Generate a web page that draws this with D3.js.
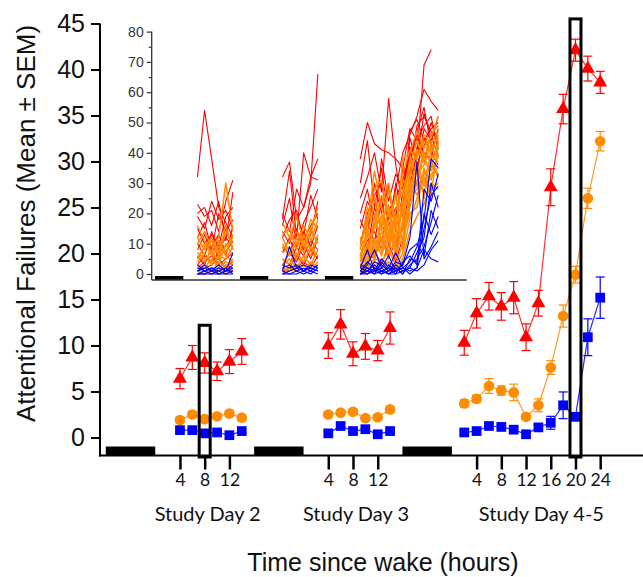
<!DOCTYPE html>
<html>
<head>
<meta charset="utf-8">
<script src="https://cdn.jsdelivr.net/npm/d3@7"></script>
<style>
  body { margin: 0; background: #fff; }
  svg { display: block; }
</style>
</head>
<body>
<svg id="chart" width="643" height="577"></svg>
<script>
// ---- Protocol timeline (hours from the first sleep onset) ----
const sleepBlocks = [[0, 8], [24, 32], [48, 56]];
const dayNames = ["Study Day 2", "Study Day 3", "Study Day 4-5"];
const dayWake = [8, 32, 56];
const dayTickHours = [[4, 8, 12], [4, 8, 12], [4, 8, 12, 16, 20, 24]];
const yTicks = [0, 5, 10, 15, 20, 25, 30, 35, 40, 45];

// ---- Test times since wake, per study day ----
const hoursDay2 = [4, 6, 8, 10, 12, 14];
const hoursDay3 = [4, 6, 8, 10, 12, 14];
const hoursDay45 = [2, 4, 6, 8, 10, 12, 14, 16, 18, 20, 22, 24];
const dayHours = [hoursDay2, hoursDay3, hoursDay45];

// ---- Group means and SEM: red (triangles) ----
const redMean = [
  [6.4, 8.7, 8.1, 7.2, 8.25, 9.35],
  [10.0, 12.3, 9.1, 9.9, 9.45, 11.9],
  [10.3, 13.5, 15.35, 14.25, 15.2, 10.9, 14.6, 27.2, 35.7, 42.1, 40.1, 38.6]
];
const redSem = [
  [1.1, 1.3, 1.1, 1.0, 1.3, 1.4],
  [1.4, 1.6, 1.3, 1.4, 1.1, 1.75],
  [1.35, 1.6, 1.5, 1.5, 1.75, 1.45, 1.4, 2.0, 1.6, 1.2, 1.35, 1.2]
];
// ---- orange (circles) ----
const orangeMean = [
  [1.9, 2.5, 2.0, 2.3, 2.6, 2.15],
  [2.5, 2.7, 2.8, 2.1, 2.2, 3.05],
  [3.7, 4.2, 5.6, 5.1, 4.9, 2.25, 3.5, 7.6, 13.2, 17.7, 26.0, 32.2]
];
const orangeSem = [
  [0.3, 0.35, 0.3, 0.3, 0.35, 0.3],
  [0.3, 0.3, 0.3, 0.3, 0.3, 0.35],
  [0.4, 0.4, 0.8, 0.5, 0.9, 0.3, 0.7, 0.75, 1.2, 0.9, 1.1, 1.05]
];
// ---- blue (squares) ----
const blueMean = [
  [0.8, 0.8, 0.45, 0.55, 0.25, 0.7],
  [0.45, 1.25, 0.7, 0.9, 0.35, 0.7],
  [0.55, 0.7, 1.25, 1.15, 0.85, 0.35, 1.1, 1.6, 3.5, 2.25, 10.9, 15.2]
];
const blueSem = [
  [0.2, 0.2, 0.2, 0.2, 0.2, 0.2],
  [0.2, 0.25, 0.2, 0.2, 0.2, 0.2],
  [0.2, 0.2, 0.25, 0.2, 0.2, 0.2, 0.3, 0.7, 1.45, 0.4, 2.0, 2.25]
];

// ---- Highlighted test bouts: study day index, hour, box top (failures) ----
const highlightDay = [0, 2];
const highlightHour = [8, 20];
const highlightTop = [12.2, 45.5];

// ---- Individual participant traces (inset) ----
const indivRed = [
  [ // Study Day 2
    [32, 54, 38, 22, 17, 12], [23, 19, 21, 14, 24, 31], [20, 22, 16, 24, 11, 27],
    [19, 15, 24, 18, 21, 15], [15, 10, 13, 9, 19, 22], [12, 17, 8, 20, 14, 18],
    [10, 6, 14, 8, 12, 9], [8, 13, 7, 11, 6, 16], [5, 9, 11, 5, 15, 8],
    [3, 6, 4, 7, 9, 13], [2, 4, 6, 3, 5, 7], [1, 2, 3, 5, 2, 4],
    [0, 1, 2, 1, 3, 2], [6, 3, 9, 13, 7, 11]
  ],
  [ // Study Day 3
    [32, 37, 18, 22, 30, 66], [18, 34, 12, 40, 32, 38], [20, 14, 28, 22, 32, 31],
    [16, 25, 9, 17, 22, 28], [12, 18, 21, 11, 16, 20], [9, 6, 15, 8, 13, 24],
    [7, 12, 5, 14, 9, 16], [5, 3, 9, 6, 11, 8], [3, 7, 4, 10, 5, 12],
    [1, 2, 6, 3, 8, 5], [0, 1, 2, 4, 2, 6], [14, 10, 19, 13, 26, 18]
  ],
  [ // Study Day 4-5
    [38, 50, 43, 41, 40, 38, 35, 30, 39, 69, 74, null],
    [30, 44, 22, 35, 18, 28, 40, 46, 52, 61, 57, 54],
    [25, 32, 40, 27, 58, 36, 22, 47, 51, 44, 48, 50],
    [20, 28, 15, 38, 24, 33, 28, 42, 38, 53, 45, 47],
    [18, 12, 30, 20, 29, 14, 35, 48, 44, 49, 52, 41],
    [15, 24, 19, 11, 21, 25, 31, 39, 47, 55, 42, 45],
    [12, 8, 22, 16, 13, 30, 19, 45, 36, 42, 50, 43],
    [9, 18, 10, 25, 9, 20, 33, 37, 46, 40, 38, 48],
    [6, 11, 14, 8, 17, 7, 26, 41, 33, 48, 44, 52],
    [4, 7, 5, 12, 6, 10, 15, 29, 42, 37, 46, 39],
    [2, 4, 8, 3, 10, 4, 12, 24, 35, 45, 40, 36],
    [10, 20, 26, 30, 16, 22, 9, 34, 49, 52, 47, 44]
  ]
];
const indivOrange = [
  [
    [10, 14, 9, 12, 30, 14], [16, 11, 7, 5, 9, 12], [12, 8, 11, 6, 14, 10],
    [8, 10, 6, 9, 7, 13], [6, 4, 8, 3, 10, 6], [4, 7, 3, 6, 5, 9],
    [3, 2, 5, 2, 4, 3], [2, 3, 1, 4, 2, 5], [1, 0, 2, 1, 3, 1],
    [0, 1, 0, 2, 0, 2], [5, 9, 12, 7, 16, 8], [7, 5, 4, 11, 6, 4]
  ],
  [
    [17, 12, 19, 10, 14, 22], [13, 15, 8, 16, 11, 18], [10, 6, 12, 7, 15, 10],
    [7, 9, 5, 11, 6, 13], [5, 3, 7, 4, 9, 6], [3, 5, 2, 6, 3, 8],
    [2, 1, 3, 1, 4, 2], [0, 2, 1, 3, 1, 4], [8, 11, 14, 9, 18, 15],
    [12, 7, 10, 13, 8, 11]
  ],
  [
    [10, 16, 34, 22, 14, 12, 38, 40, 47, 42, 45, 52],
    [8, 22, 18, 26, 20, 9, 25, 35, 39, 44, 40, 46],
    [6, 12, 25, 14, 28, 16, 20, 38, 33, 36, 43, 41],
    [4, 9, 15, 19, 11, 21, 30, 32, 41, 38, 35, 44],
    [3, 6, 10, 8, 17, 6, 18, 29, 36, 30, 39, 37],
    [2, 4, 7, 12, 5, 13, 14, 26, 28, 34, 31, 40],
    [1, 2, 5, 4, 8, 3, 10, 22, 31, 27, 33, 35],
    [0, 1, 3, 2, 4, 2, 7, 18, 25, 32, 28, 30],
    [5, 14, 8, 17, 23, 11, 16, 34, 29, 40, 37, 33],
    [7, 3, 20, 10, 9, 18, 24, 27, 37, 25, 42, 38],
    [2, 8, 12, 6, 14, 8, 12, 20, 22, 35, 26, 43],
    [0, 3, 2, 5, 3, 1, 5, 14, 19, 23, 30, 28],
    [9, 18, 28, 31, 19, 25, 27, 36, 44, 38, 46, 49],
    [3, 5, 9, 7, 12, 10, 22, 31, 26, 33, 36, 32],
    [12, 7, 16, 24, 30, 15, 33, 41, 38, 46, 43, 47],
    [4, 10, 6, 14, 7, 19, 11, 25, 34, 29, 38, 42],
    [1, 3, 11, 9, 22, 5, 17, 33, 41, 37, 34, 39],
    [6, 15, 4, 20, 12, 27, 8, 28, 30, 42, 41, 45]
  ]
];
const indivBlue = [
  [
    [1, 3, 1, 2, 1, 7], [0, 1, 2, 1, 0, 1], [2, 1, 0, 1, 2, 0],
    [0, 0, 1, 0, 1, 2], [1, 2, 1, 3, 1, 1], [0, 0, 0, 0, 0, 0],
    [3, 1, 2, 0, 1, 3]
  ],
  [
    [1, 9, 2, 1, 3, 2], [2, 3, 1, 2, 1, 3], [0, 1, 2, 3, 2, 1],
    [1, 0, 0, 1, 0, 2], [3, 2, 3, 1, 2, 1], [0, 0, 1, 0, 1, 0]
  ],
  [
    [1, 3, 8, 2, 6, 1, 3, 12, 37, 5, 9, 14],
    [2, 8, 1, 5, 2, 7, 2, 4, 9, 18, 38, 35],
    [0, 1, 3, 1, 2, 0, 4, 6, 3, 28, 24, 33],
    [3, 2, 0, 4, 1, 3, 1, 2, 7, 12, 30, 22],
    [1, 0, 2, 1, 0, 2, 0, 3, 5, 9, 17, 26],
    [0, 2, 1, 0, 3, 1, 2, 1, 2, 20, 13, 19],
    [2, 1, 4, 3, 1, 4, 3, 8, 10, 6, 21, 15],
    [0, 0, 1, 2, 0, 0, 1, 2, 1, 3, 8, 11],
    [1, 4, 2, 0, 1, 2, 0, 5, 4, 15, 26, 29],
    [0, 1, 0, 1, 0, 1, 2, 0, 2, 8, 5, 4]
  ]
];
const insetTicks = [0, 10, 20, 30, 40, 50, 60, 70, 80];
const insetMinorTicks = [5, 15, 25, 35, 45, 55, 65, 75];

// ---- Colours ----
const RED = "#ff0000", ORANGE = "#ff8c00", BLUE = "#0000ff";

const svg = d3.select("#chart");

// ---- Main scales ----
const x = d3.scaleLinear().domain([0, 80]).range([105.8, 600.2]);
const y = d3.scaleLinear().domain([0, 45]).range([437.5, 23.5]);
const axisY = 455.5;   // baseline of the time axis
const axisX = 100;     // position of the failures axis

// ---- Inset scales ----
const xi = d3.scaleLinear().domain([0, 80]).range([155, 438.2]);
const yi = d3.scaleLinear().domain([0, 80]).range([274, 31.6]);
const insetAxisY = 280, insetAxisX = 151.7, insetRight = 466.7;

// ================= Inset =================
const inset = svg.append("g").attr("class", "inset");

const lineI = (hours, wake) => d3.line()
  .defined(d => d != null)
  .x((d, i) => xi(wake + hours[i]))
  .y(d => yi(d));

function drawTraces(sets, color, width) {
  sets.forEach((daySet, di) => {
    const gen = lineI(dayHours[di], dayWake[di]);
    inset.append("g")
      .selectAll("path")
      .data(daySet)
      .join("path")
      .attr("d", gen)
      .attr("fill", "none")
      .attr("stroke", color)
      .attr("stroke-width", width)
      .attr("stroke-linejoin", "round");
  });
}
drawTraces(indivRed, RED, 1.1);
drawTraces(indivOrange, ORANGE, 1.5);
drawTraces(indivBlue, BLUE, 1.1);

// inset sleep bars
inset.append("g").selectAll("rect")
  .data(sleepBlocks)
  .join("rect")
  .attr("x", d => xi(d[0]))
  .attr("width", d => xi(d[1]) - xi(d[0]))
  .attr("y", insetAxisY - 4)
  .attr("height", 4)
  .attr("fill", "#000");

// inset axes
const insetYAxis = inset.append("g")
  .attr("transform", `translate(${insetAxisX},0)`)
  .call(d3.axisLeft(yi).tickValues(insetTicks).tickSize(5).tickPadding(3).tickSizeOuter(0));
insetYAxis.select(".domain").remove();
insetYAxis.selectAll("text")
  .attr("font-family", "Liberation Sans, Arial, sans-serif")
  .attr("font-size", 14)
  .attr("fill", "#333");
insetYAxis.selectAll("line").attr("stroke", "#333").attr("stroke-width", 1.2);
inset.append("g")
  .attr("transform", `translate(${insetAxisX},0)`)
  .call(d3.axisLeft(yi).tickValues(insetMinorTicks).tickSize(3).tickFormat(""))
  .call(g => g.select(".domain").remove())
  .selectAll("line").attr("stroke", "#333").attr("stroke-width", 1.2);
inset.append("line")
  .attr("x1", insetAxisX).attr("x2", insetAxisX)
  .attr("y1", yi(80)).attr("y2", insetAxisY)
  .attr("stroke", "#333").attr("stroke-width", 1.3);
inset.append("line")
  .attr("x1", insetAxisX).attr("x2", insetRight)
  .attr("y1", insetAxisY).attr("y2", insetAxisY)
  .attr("stroke", "#333").attr("stroke-width", 1.3);

// ================= Main axes =================
const yAxis = svg.append("g")
  .attr("transform", `translate(${axisX},0)`)
  .call(d3.axisLeft(y).tickValues(yTicks).tickSize(9).tickPadding(6).tickSizeOuter(0));
yAxis.select(".domain").remove();
yAxis.selectAll("line").attr("stroke", "#000").attr("stroke-width", 2);
yAxis.selectAll("text")
  .attr("font-family", "Liberation Sans, Arial, sans-serif")
  .attr("font-size", 25)
  .attr("fill", "#111");
svg.append("line")
  .attr("x1", axisX).attr("x2", axisX)
  .attr("y1", y(45)).attr("y2", axisY + 1)
  .attr("stroke", "#000").attr("stroke-width", 2);

// time ticks
const tickTimes = [], tickLabels = new Map();
dayTickHours.forEach((hrs, di) => hrs.forEach(h => {
  tickTimes.push(dayWake[di] + h);
  tickLabels.set(dayWake[di] + h, String(h));
}));
const xAxis = svg.append("g")
  .attr("transform", `translate(0,${axisY})`)
  .call(d3.axisBottom(x).tickValues(tickTimes).tickSize(14).tickPadding(4)
    .tickFormat(t => tickLabels.get(t)));
xAxis.select(".domain").remove();
xAxis.selectAll("line").attr("stroke", "#000").attr("stroke-width", 2.5);
xAxis.selectAll("text")
  .attr("font-family", "Lato, sans-serif")
  .attr("font-size", 17.5)
  .attr("fill", "#111");
svg.append("line")
  .attr("x1", axisX - 1).attr("x2", 643)
  .attr("y1", axisY).attr("y2", axisY)
  .attr("stroke", "#000").attr("stroke-width", 2);

// sleep bars on the time axis
svg.append("g").selectAll("rect")
  .data(sleepBlocks)
  .join("rect")
  .attr("x", d => x(d[0]))
  .attr("width", d => x(d[1]) - x(d[0]))
  .attr("y", axisY - 9)
  .attr("height", 9)
  .attr("fill", "#000");

// study day labels, centred under each day's ticks
svg.append("g").selectAll("text")
  .data(dayNames)
  .join("text")
  .attr("x", (d, i) => x(dayWake[i] + d3.mean(d3.extent(dayTickHours[i]))) + 3)
  .attr("y", 521)
  .attr("text-anchor", "middle")
  .attr("font-family", "Lato, sans-serif")
  .attr("font-size", 20)
  .attr("fill", "#111")
  .text(d => d);

// axis titles
svg.append("text")
  .attr("x", 383).attr("y", 571)
  .attr("text-anchor", "middle")
  .attr("font-family", "Liberation Sans, Arial, sans-serif")
  .attr("font-size", 25)
  .attr("fill", "#111")
  .text("Time since wake (hours)");
svg.append("text")
  .attr("transform", `translate(35,${(y(45) + axisY) / 2 - 16}) rotate(-90)`)
  .attr("text-anchor", "middle")
  .attr("font-family", "Liberation Sans, Arial, sans-serif")
  .attr("font-size", 26)
  .attr("fill", "#111")
  .text("Attentional Failures (Mean ± SEM)");

// ================= Main series =================
const series = [
  { mean: redMean, sem: redSem, color: RED, line: "#ff3030", symbol: d3.symbolTriangle, size: 85 },
  { mean: orangeMean, sem: orangeSem, color: ORANGE, line: "#ff9a2a", symbol: d3.symbolCircle, size: 90 },
  { mean: blueMean, sem: blueSem, color: BLUE, line: "#2a2aff", symbol: d3.symbolSquare, size: 95 }
];

const plot = svg.append("g").attr("class", "series");
series.forEach(s => {
  s.mean.forEach((vals, di) => {
    const pts = vals.map((v, i) => ({
      t: dayWake[di] + dayHours[di][i], v, e: s.sem[di][i]
    }));
    const g = plot.append("g");
    g.append("path")
      .datum(pts)
      .attr("d", d3.line().x(d => x(d.t)).y(d => y(d.v)))
      .attr("fill", "none")
      .attr("stroke", s.line)
      .attr("stroke-width", 1.2);
    const eb = g.selectAll("g.eb").data(pts).join("g").attr("class", "eb")
      .attr("stroke", s.color).attr("stroke-width", 1.2);
    eb.append("line")
      .attr("x1", d => x(d.t)).attr("x2", d => x(d.t))
      .attr("y1", d => y(d.v - d.e)).attr("y2", d => y(d.v + d.e));
    eb.append("line")
      .attr("x1", d => x(d.t) - 4.5).attr("x2", d => x(d.t) + 4.5)
      .attr("y1", d => y(d.v + d.e)).attr("y2", d => y(d.v + d.e));
    eb.append("line")
      .attr("x1", d => x(d.t) - 4.5).attr("x2", d => x(d.t) + 4.5)
      .attr("y1", d => y(d.v - d.e)).attr("y2", d => y(d.v - d.e));
    g.selectAll("path.mk").data(pts).join("path").attr("class", "mk")
      .attr("transform", d => `translate(${x(d.t)},${y(d.v)})`)
      .attr("d", d3.symbol().type(s.symbol).size(s.size))
      .attr("fill", s.color);
  });
});

// highlighted bouts
svg.append("g").selectAll("rect")
  .data(highlightDay)
  .join("rect")
  .attr("x", (d, i) => x(dayWake[d] + highlightHour[i]) - 5.5)
  .attr("width", 11)
  .attr("y", (d, i) => y(highlightTop[i]))
  .attr("height", (d, i) => axisY + 1.5 - y(highlightTop[i]))
  .attr("fill", "none")
  .attr("stroke", "#000")
  .attr("stroke-width", 3);
</script>
</body>
</html>
